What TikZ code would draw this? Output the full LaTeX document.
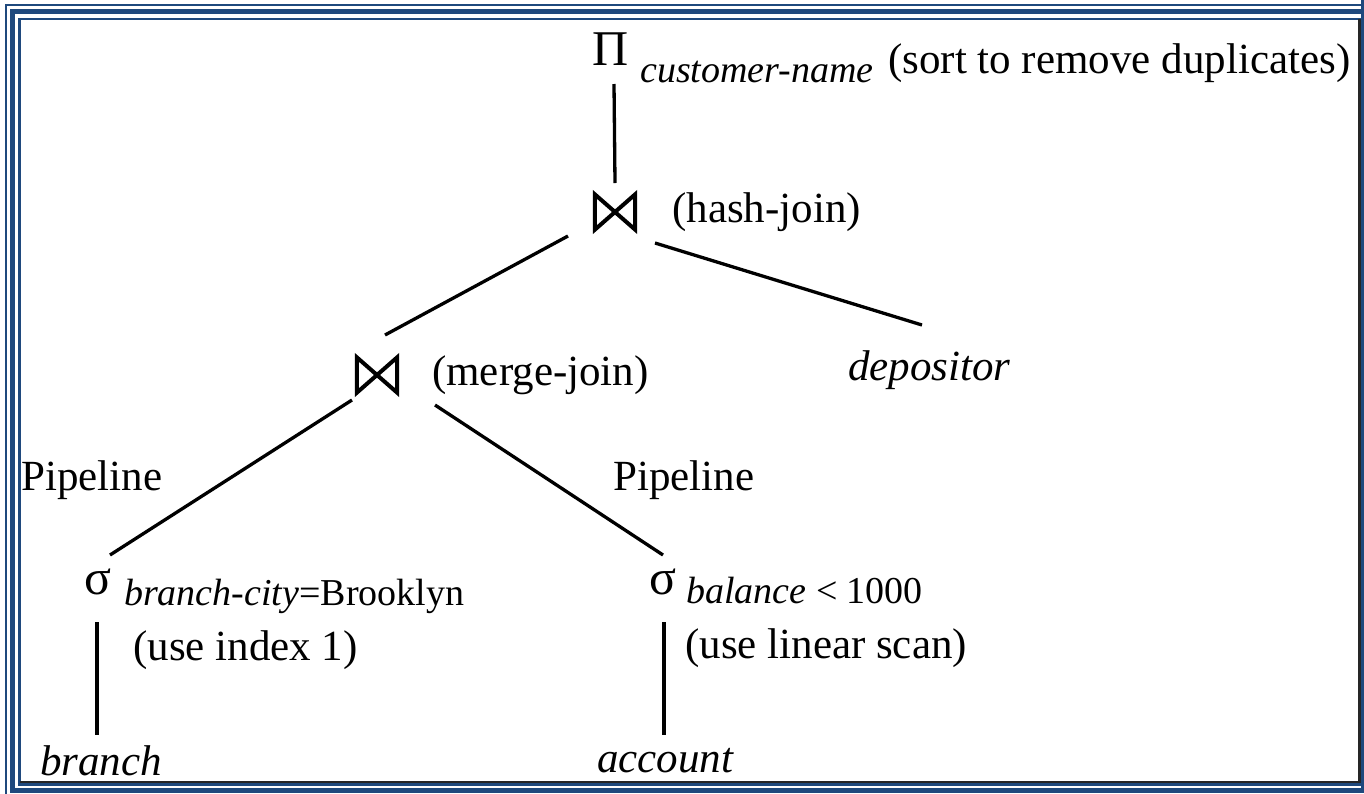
\documentclass[tikz,border=0pt]{standalone}
\usepackage{fontspec}
\setmainfont{Liberation Serif}
\usetikzlibrary{calc}
\definecolor{frameblue}{RGB}{31,73,125}
\tikzset{
  big/.style={inner sep=0pt, anchor=base west, font=\fontsize{43}{50}\selectfont},
  sub/.style={inner sep=0pt, anchor=base west, font=\fontsize{38}{44}\selectfont},
  bigop/.style={inner sep=0pt, anchor=base west, font=\fontsize{50}{58}\selectfont},
  sigma/.style={inner sep=0pt, anchor=base west, font=\fontsize{50}{58}\selectfont},
  tie/.style={inner sep=0pt, minimum width=40pt, minimum height=35pt, draw=none},
  tiestroke/.style={line width=4pt, line join=miter},
  edge/.style={line width=3.3pt},
}
\begin{document}
\begin{tikzpicture}[x=1pt, y=-1pt]
\useasboundingbox (0,0) rectangle (1364,793);
% frame
\draw[frameblue, line width=2pt] (6,5) rectangle (1420,850);
\draw[frameblue, line width=5.5pt] (12.5,11.5) rectangle (1385,790.5);
\fill[frameblue] (1361,0) rectangle (1364,793);
\fill[frameblue] (18,783) rectangle (1364,785.5);
\draw[frameblue, line width=2.5pt] (19.5,19) rectangle (1359.5,782);
\draw[black!85, line width=2.5pt] (19.5,782) -- (1359.5,782) -- (1359.5,19);

% top projection
\node[bigop] (pi) at (592,65) {Π};
\node[sub] (pisub) at (640,82) {\itshape customer-name};
\node[big] (pinote) at (888,73) {(sort to remove duplicates)};

% hash join
\node[tie] (hj) at (615,212) {};
\draw[tiestroke] (hj.north west) -- (hj.south west) -- (hj.north east) -- (hj.south east) -- cycle;
\node[big] (hjl) at (672,222) {(hash-join)};

% merge join
\node[tie] (mj) at (377,375) {};
\draw[tiestroke] (mj.north west) -- (mj.south west) -- (mj.north east) -- (mj.south east) -- cycle;
\node[big] (mjl) at (432,385) {(merge-join)};

% depositor
\node[big] (dep) at (848,380) {\itshape depositor};

% pipelines
\node[big] (pl1) at (21,490) {Pipeline};
\node[big] (pl2) at (613,490) {Pipeline};

% left selection
\node[sigma] (sl) at (84,594) {σ};
\node[sub] (slsub) at (124,605) {\itshape branch-city\upshape =Brooklyn};
\node[big] (sln) at (133,660) {(use index 1)};
\node[big] (br) at (40,775) {\itshape branch};

% right selection
\node[sigma] (sr) at (649,594) {σ};
\node[sub] (srsub) at (686,603) {\itshape balance\upshape{} < 1000};
\node[big] (srn) at (685,658) {(use linear scan)};
\node[big] (ac) at (597,772) {\itshape account};

% connectors
\draw[edge] ($(pi.base west)+(22,19)$) -- ($(hj.center)+(0,-29)$);
\draw[edge] ($(hj.center)+(-47,24)$) -- ($(mj.center)+(8,-40)$);
\draw[edge] ($(hj.center)+(40,31)$) -- ($(dep.base west)+(74,-55)$);
\draw[edge] ($(mj.center)+(-25,25)$) -- ($(sl.base west)+(26,-39)$);
\draw[edge] ($(mj.center)+(58,30)$) -- ($(sr.base west)+(14,-39)$);
\draw[edge] ($(sl.base west)+(13,28)$) -- ($(br.base west)+(57,-40)$);
\draw[edge] ($(sr.base west)+(15,28)$) -- ($(ac.base west)+(67,-37)$);
\end{tikzpicture}
\end{document}
